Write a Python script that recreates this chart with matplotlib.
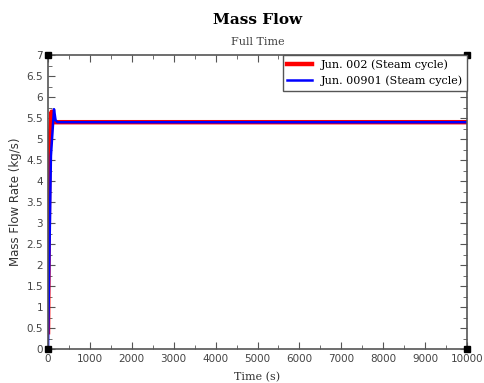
import numpy as np
import matplotlib.pyplot as plt
from matplotlib.ticker import MultipleLocator

# data
t_red = [0, 15, 35, 88, 110, 10000]
m_red = [0.4, 2.5, 4.9, 5.65, 5.40, 5.40]
t_blue = [0, 30, 70, 143, 180, 222, 10000]
m_blue = [0.0, 2.0, 4.6, 5.71, 5.45, 5.40, 5.40]
labels = ['Jun. 002 (Steam cycle)', 'Jun. 00901 (Steam cycle)']

fig = plt.figure(figsize=(4.84, 3.83), dpi=100)
ax = fig.add_axes([48/484, 1-349/383, (467-48)/484, (349-55)/383])

ax.plot(t_red, m_red, color='red', lw=3.2, label=labels[0])
ax.plot(t_blue, m_blue, color='blue', lw=1.8, label=labels[1])

ax.set_xlim(0, 10000)
ax.set_ylim(0, 7)
ax.xaxis.set_major_locator(MultipleLocator(1000))
ax.xaxis.set_minor_locator(MultipleLocator(500))
ax.yaxis.set_major_locator(MultipleLocator(0.5))
ax.yaxis.set_minor_locator(MultipleLocator(0.25))
ax.tick_params(which='both', direction='in', top=True, right=True, colors='#555555',
               labelcolor='#444444', labelsize=7.5)
ax.tick_params(which='major', length=5)
ax.tick_params(which='minor', length=3)
ax.yaxis.set_major_formatter(plt.FuncFormatter(lambda v, p: ('%g' % v)))
for s in ax.spines.values():
    s.set_color('#555555')
    s.set_linewidth(1.2)

# corner markers
ax.plot([0, 10000, 0, 10000], [0, 0, 7, 7], 's', color='black', ms=5, clip_on=False, zorder=5)

ax.set_xlabel('Time (s)', family='DejaVu Serif', fontsize=8, color='#333333', labelpad=6)
ax.set_ylabel('Mass Flow Rate (kg/s)', fontsize=8.5, color='#333333', labelpad=3)
cx = (48 + 467) / 2 / 484
fig.text(cx, 1-20/383, 'Mass Flow', ha='center', va='center', family='DejaVu Serif',
         fontsize=11, fontweight='bold')
fig.text(cx, 1-42/383, 'Full Time', ha='center', va='center', family='DejaVu Serif',
         fontsize=8, color='#444444')

leg = ax.legend(loc='upper right', prop={'family': 'DejaVu Serif', 'size': 8},
                fancybox=False, framealpha=1, edgecolor='#555555',
                borderaxespad=0, handlelength=2.2)
leg.get_frame().set_linewidth(1)

fig.savefig('out.png', dpi=100)
